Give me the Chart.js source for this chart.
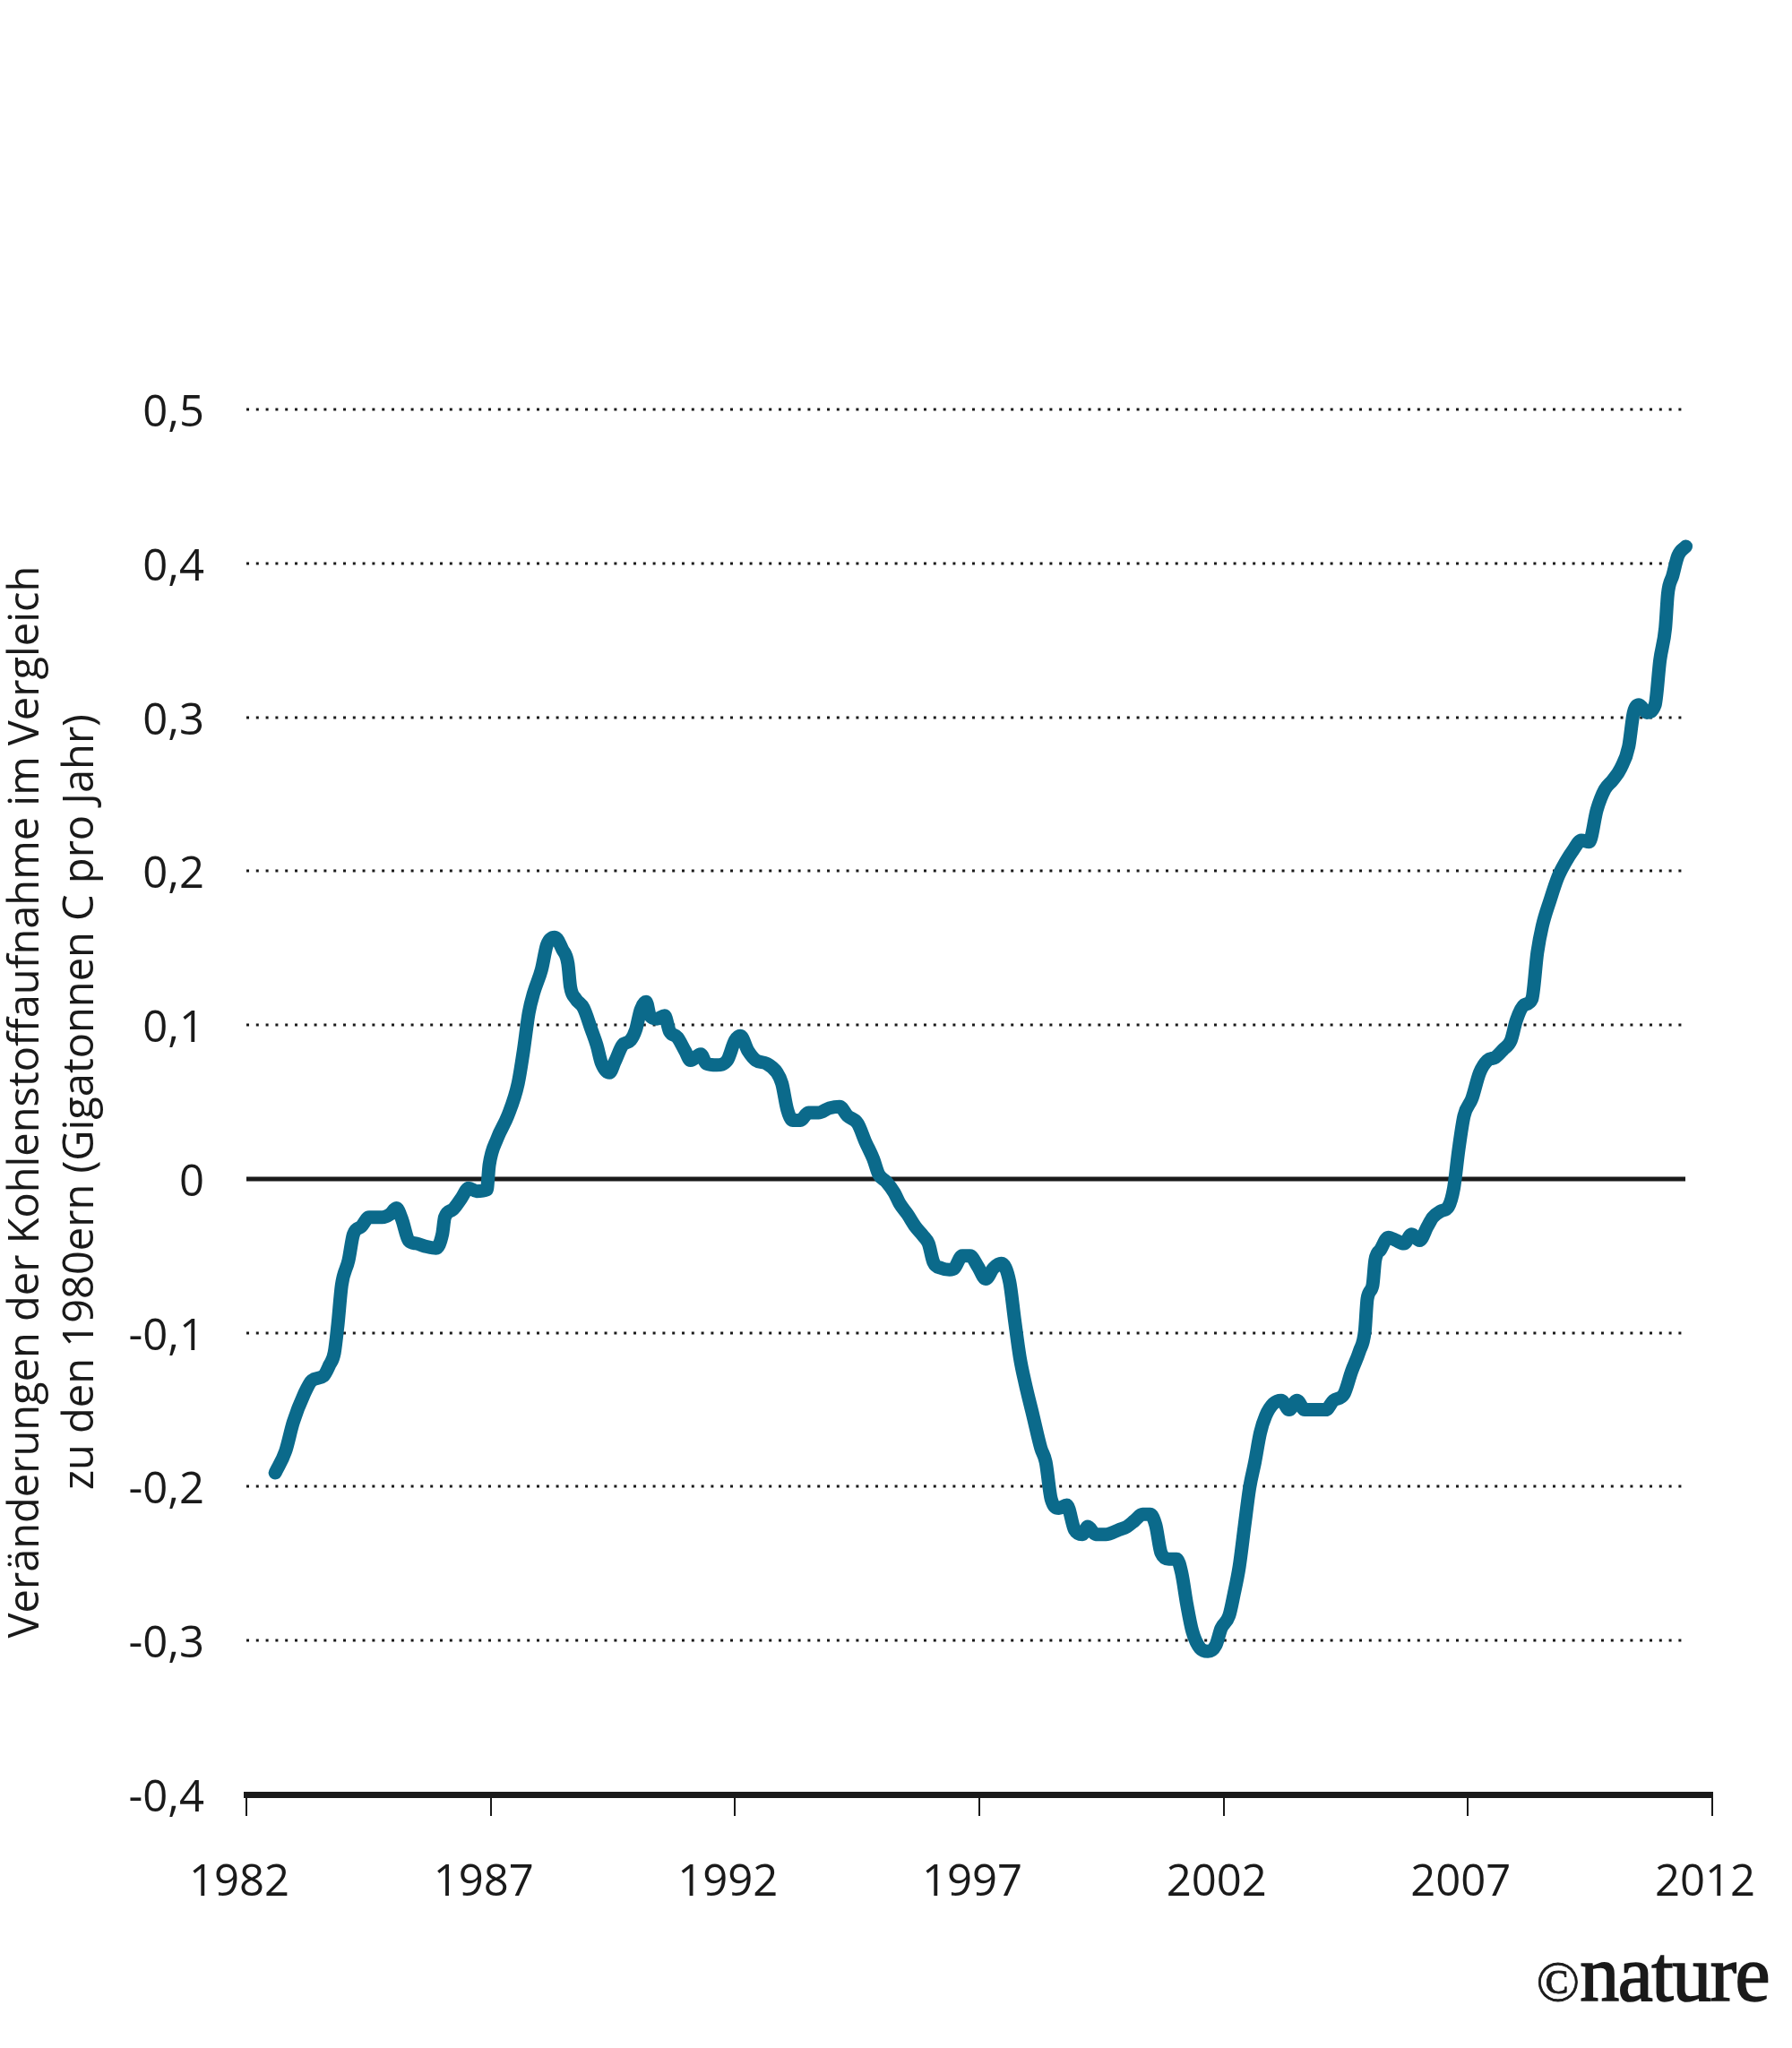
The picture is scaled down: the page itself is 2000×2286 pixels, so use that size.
<!DOCTYPE html>
<html>
<head>
<meta charset="utf-8">
<script src="https://cdn.jsdelivr.net/npm/chart.js@4/dist/chart.umd.min.js"></script>
<style>
  html, body { margin: 0; padding: 0; background: #ffffff; }
  #wrap { position: relative; width: 2000px; height: 2286px; background: #ffffff; }
  #c { position: absolute; left: 0; top: 0; }
  #logo { position: absolute; left: 1680px; width: 294px; top: 2160px; text-align: right;
          font-family: "Liberation Serif", "DejaVu Serif", serif; font-size: 88px; line-height: 88px;
          color: #1a1a1a; letter-spacing: -1.5px; white-space: nowrap; -webkit-text-stroke: 1.6px #1a1a1a; }
  #logo span { font-size: 64px; letter-spacing: 0; -webkit-text-stroke: 0.8px #1a1a1a; }
</style>
</head>
<body>
<div id="wrap">
  <canvas id="c" width="2000" height="2286"></canvas>
  <div id="logo"><span>©</span>nature</div>
</div>
<script>
// ---- data ----
const years = [1982.59,1982.80,1982.96,1983.18,1983.34,1983.58,1983.70,1983.80,1983.87,1983.95,
  1984.09,1984.19,1984.35,1984.51,1984.78,1984.94,1985.07,1985.18,1985.32,1985.48,
  1985.69,1985.88,1986.01,1986.06,1986.22,1986.39,1986.55,1986.71,1986.92,1986.97,
  1987.13,1987.35,1987.56,1987.67,1987.78,1987.88,1988.04,1988.15,1988.31,1988.47,
  1988.58,1988.63,1988.74,1988.90,1989.06,1989.17,1989.27,1989.43,1989.54,1989.70,
  1989.86,1989.97,1990.07,1990.18,1990.26,1990.40,1990.56,1990.66,1990.82,1990.98,
  1991.09,1991.30,1991.41,1991.63,1991.84,1992.00,1992.11,1992.27,1992.43,1992.64,
  1992.86,1992.96,1993.07,1993.18,1993.34,1993.50,1993.71,1993.93,1994.14,1994.30,
  1994.51,1994.67,1994.83,1994.94,1995.10,1995.26,1995.37,1995.53,1995.69,1995.85,
  1995.96,1996.06,1996.22,1996.39,1996.49,1996.65,1996.81,1996.97,1997.13,1997.29,
  1997.45,1997.62,1997.72,1997.83,1997.94,1998.10,1998.26,1998.36,1998.47,1998.63,
  1998.79,1998.95,1999.11,1999.22,1999.38,1999.59,1999.86,2000.02,2000.18,2000.34,
  2000.50,2000.61,2000.72,2000.88,2001.04,2001.14,2001.25,2001.36,2001.52,2001.68,
  2001.84,2001.95,2002.11,2002.21,2002.32,2002.43,2002.53,2002.64,2002.75,2002.86,
  2003.02,2003.18,2003.34,2003.50,2003.66,2003.87,2004.09,2004.25,2004.46,2004.62,
  2004.78,2004.89,2004.94,2005.05,2005.10,2005.21,2005.37,2005.53,2005.69,2005.85,
  2006.01,2006.17,2006.28,2006.44,2006.60,2006.71,2006.81,2006.92,2007.08,2007.24,
  2007.40,2007.56,2007.72,2007.88,2007.99,2008.15,2008.31,2008.42,2008.52,2008.68,
  2008.84,2009.00,2009.16,2009.32,2009.48,2009.64,2009.80,2009.96,2010.13,2010.29,
  2010.39,2010.50,2010.66,2010.83,2010.93,2011.04,2011.09,2011.19,2011.30,2011.46];

const uptake = [-0.191,-0.177,-0.158,-0.140,-0.131,-0.128,-0.121,-0.113,-0.095,-0.069,
  -0.053,-0.036,-0.031,-0.025,-0.025,-0.023,-0.019,-0.026,-0.040,-0.042,
  -0.044,-0.045,-0.036,-0.025,-0.020,-0.013,-0.006,-0.008,-0.007,0.009,
  0.026,0.041,0.062,0.083,0.108,0.121,0.136,0.152,0.157,0.149,
  0.140,0.125,0.117,0.111,0.097,0.087,0.075,0.069,0.076,0.087,
  0.090,0.097,0.110,0.115,0.106,0.104,0.106,0.096,0.092,0.083,
  0.077,0.081,0.075,0.074,0.077,0.090,0.093,0.083,0.077,0.075,
  0.069,0.062,0.045,0.038,0.038,0.043,0.043,0.046,0.047,0.041,
  0.036,0.024,0.013,0.003,-0.002,-0.009,-0.016,-0.023,-0.031,-0.037,
  -0.042,-0.054,-0.058,-0.059,-0.058,-0.050,-0.050,-0.057,-0.065,-0.058,
  -0.055,-0.067,-0.091,-0.116,-0.133,-0.154,-0.175,-0.184,-0.208,-0.214,
  -0.212,-0.228,-0.231,-0.226,-0.231,-0.231,-0.228,-0.226,-0.222,-0.218,
  -0.218,-0.225,-0.243,-0.247,-0.247,-0.256,-0.277,-0.294,-0.305,-0.307,
  -0.303,-0.292,-0.284,-0.270,-0.252,-0.225,-0.201,-0.184,-0.165,-0.154,
  -0.146,-0.144,-0.150,-0.144,-0.150,-0.150,-0.150,-0.144,-0.140,-0.125,
  -0.112,-0.099,-0.078,-0.069,-0.053,-0.046,-0.038,-0.040,-0.042,-0.036,
  -0.040,-0.031,-0.025,-0.021,-0.018,-0.006,0.019,0.041,0.052,0.069,
  0.077,0.079,0.084,0.090,0.103,0.113,0.117,0.147,0.164,0.181,
  0.196,0.206,0.214,0.220,0.219,0.240,0.253,0.259,0.267,0.281,
  0.303,0.308,0.303,0.308,0.337,0.358,0.380,0.392,0.405,0.411];

const xTicks = [1982, 1987, 1992, 1997, 2002, 2007, 2012];
const yTicks = [-0.4, -0.3, -0.2, -0.1, 0, 0.1, 0.2, 0.3, 0.4, 0.5];
const yTitle = ['Veränderungen der Kohlenstoffaufnahme im Vergleich', 'zu den 1980ern (Gigatonnen C pro Jahr)'];

// ---- styles ----
const INK = '#1a1a1a';
const LINE = '#0b6a8b';
const GRID_END_YEAR = 2011.45;

const points = years.map((y, i) => ({ x: y, y: uptake[i] }));

const gridPlugin = {
  id: 'refGrid',
  beforeDatasetsDraw(chart) {
    const { ctx, chartArea, scales } = chart;
    const xs = scales.x, ys = scales.y;
    const x0 = chartArea.left;
    const x1 = xs.getPixelForValue(GRID_END_YEAR);
    ctx.save();
    yTicks.forEach(v => {
      if (v === -0.4) return;
      const py = Math.round(ys.getPixelForValue(v));
      ctx.beginPath();
      if (v === 0) {
        ctx.setLineDash([]);
        ctx.lineWidth = 5;
      } else {
        ctx.setLineDash([3, 7.8]);
        ctx.lineWidth = 3.2;
      }
      ctx.strokeStyle = INK;
      ctx.moveTo(x0, py); ctx.lineTo(x1, py);
      ctx.stroke();
    });
    ctx.restore();
  }
};

new Chart(document.getElementById('c'), {
  type: 'line',
  data: {
    datasets: [{
      data: points,
      borderColor: LINE,
      borderWidth: 15,
      borderCapStyle: 'round',
      borderJoinStyle: 'round',
      pointRadius: 0,
      fill: false,
      cubicInterpolationMode: 'monotone'
    }]
  },
  options: {
    responsive: false,
    animation: false,
    devicePixelRatio: 1,
    layout: { padding: { top: 457, right: 89, bottom: 0, left: 0 } },
    plugins: { legend: { display: false }, tooltip: { enabled: false } },
    scales: {
      x: {
        type: 'linear',
        min: 1982, max: 2012,
        afterFit: s => { s.height = 2286 - 2003; s.paddingLeft = 0; s.paddingRight = 0; },
        afterBuildTicks: s => { s.ticks = xTicks.map(v => ({ value: v })); },
        ticks: {
          callback: v => String(v),
          color: INK,
          font: { family: 'Open Sans', size: 49 },
          padding: 46,
          labelOffset: -8,
          maxRotation: 0,
          autoSkip: false
        },
        grid: { drawOnChartArea: false, drawTicks: true, tickLength: 24, lineWidth: 2, color: INK, tickColor: INK },
        border: { display: true, width: 7, color: INK }
      },
      y: {
        type: 'linear',
        min: -0.4, max: 0.5,
        afterFit: s => { s.width = 275; },
        afterBuildTicks: s => { s.ticks = yTicks.map(v => ({ value: v })); },
        ticks: {
          callback: v => (Math.abs(v) < 1e-9 ? '0' : v.toFixed(1).replace('.', ',')),
          color: INK,
          font: { family: 'Open Sans', size: 49 },
          padding: 47,
          labelOffset: 5
        },
        grid: { display: false, drawTicks: false },
        border: { display: false },
        title: {
          display: true,
          text: yTitle,
          color: INK,
          font: { family: 'Open Sans', size: 47, lineHeight: 1.28 },
          padding: { top: 0, bottom: 0 }
        }
      }
    }
  },
  plugins: [gridPlugin]
});
</script>
</body>
</html>
